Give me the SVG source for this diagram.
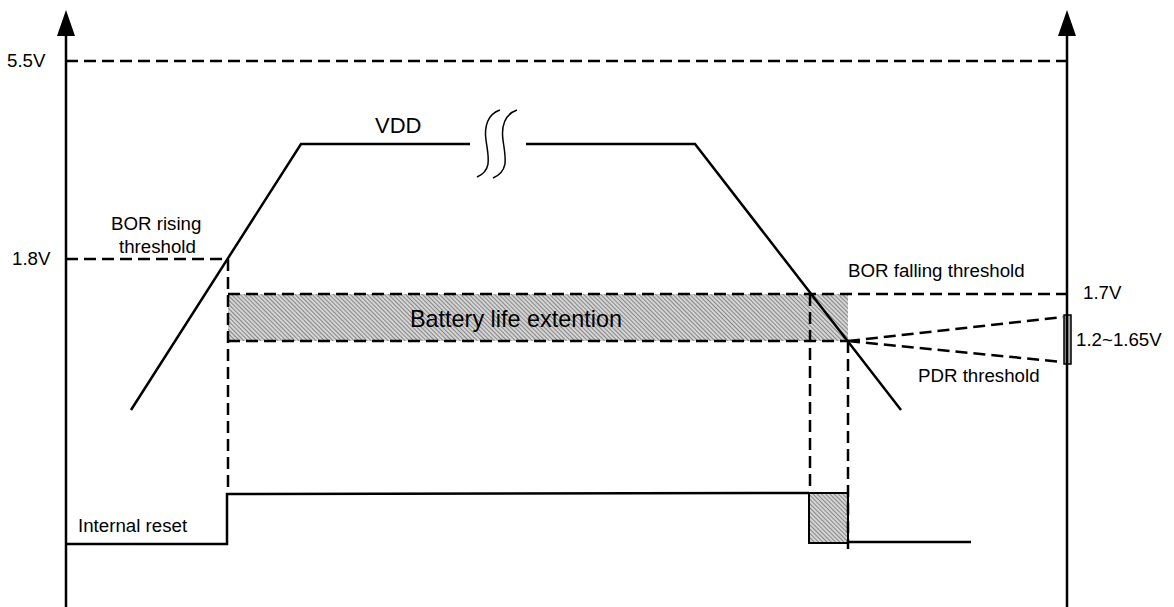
<svg xmlns="http://www.w3.org/2000/svg" width="1174" height="607" viewBox="0 0 1174 607">
<style>
.solid{fill:none;stroke:#000;stroke-width:2.5}
.dash{fill:none;stroke:#000;stroke-width:2.5;stroke-dasharray:12 6}
.t{font-family:"Liberation Sans",Arial,sans-serif;font-size:18.7px;fill:#000}
.head{fill:#000}
</style>
<defs>
<pattern id="hatch" width="3" height="3" patternUnits="userSpaceOnUse" patternTransform="rotate(-45)">
<rect width="3" height="3" fill="#d4d4d4"/>
<line x1="0" y1="0" x2="0" y2="3" stroke="#555" stroke-width="1.2"/>
</pattern>
</defs>
<g id="fills">
<rect x="228" y="294" width="620" height="47" fill="url(#hatch)"/>
<rect x="809" y="493" width="39" height="50" fill="url(#hatch)" stroke="#000" stroke-width="2"/>
<rect x="1064" y="315" width="7" height="49" fill="#aaa" stroke="#000" stroke-width="1.5"/>
</g>
<g id="connectors">
<line class="solid" x1="66" y1="607" x2="66" y2="34"/>
<polygon class="head" points="66,10 75,36 57,36"/>
<line class="solid" x1="1067" y1="607" x2="1067" y2="34"/>
<polygon class="head" points="1067,10 1076,36 1058,36"/>
<line class="dash" x1="66" y1="61" x2="1067" y2="61"/>
<line class="dash" x1="66" y1="259" x2="228" y2="259"/>
<line class="dash" x1="228" y1="294" x2="1067" y2="294"/>
<line class="dash" x1="228" y1="341" x2="848" y2="341"/>
<line class="dash" x1="228" y1="259" x2="228" y2="494"/>
<line class="dash" x1="810" y1="294" x2="810" y2="493"/>
<line class="dash" x1="848" y1="341" x2="848" y2="549"/>
<line class="dash" x1="848" y1="341" x2="1063" y2="317"/>
<line class="dash" x1="848" y1="341" x2="1063" y2="362"/>
<polyline class="solid" points="131,410 301,144 470,144"/>
<polyline class="solid" points="526,144 695,144 901,410"/>
<path d="M500,110 C488,114 484,126 486,140 C488,156 493,170 477,177" fill="none" stroke="#000" stroke-width="1.5"/>
<path d="M517,110 C505,114 501,126 503,140 C505,156 510,171 493,178" fill="none" stroke="#000" stroke-width="1.5"/>
<polyline class="solid" points="66,544 227,544 227,494 809,493"/>
<line class="solid" x1="848" y1="542" x2="971" y2="542"/>
</g>
<g id="labels">
<text class="t" x="7" y="67">5.5V</text>
<text class="t" x="12" y="265">1.8V</text>
<text class="t" x="111" y="230">BOR rising</text>
<text class="t" x="119" y="253">threshold</text>
<text class="t" x="375" y="133" style="font-size:22px">VDD</text>
<text class="t" x="410" y="327" style="font-size:23.4px">Battery life extention</text>
<text class="t" x="848" y="277">BOR falling threshold</text>
<text class="t" x="1083" y="299">1.7V</text>
<text class="t" x="1076" y="346">1.2~1.65V</text>
<text class="t" x="918" y="382">PDR threshold</text>
<text class="t" x="78" y="532">Internal reset</text>
</g>
</svg>
